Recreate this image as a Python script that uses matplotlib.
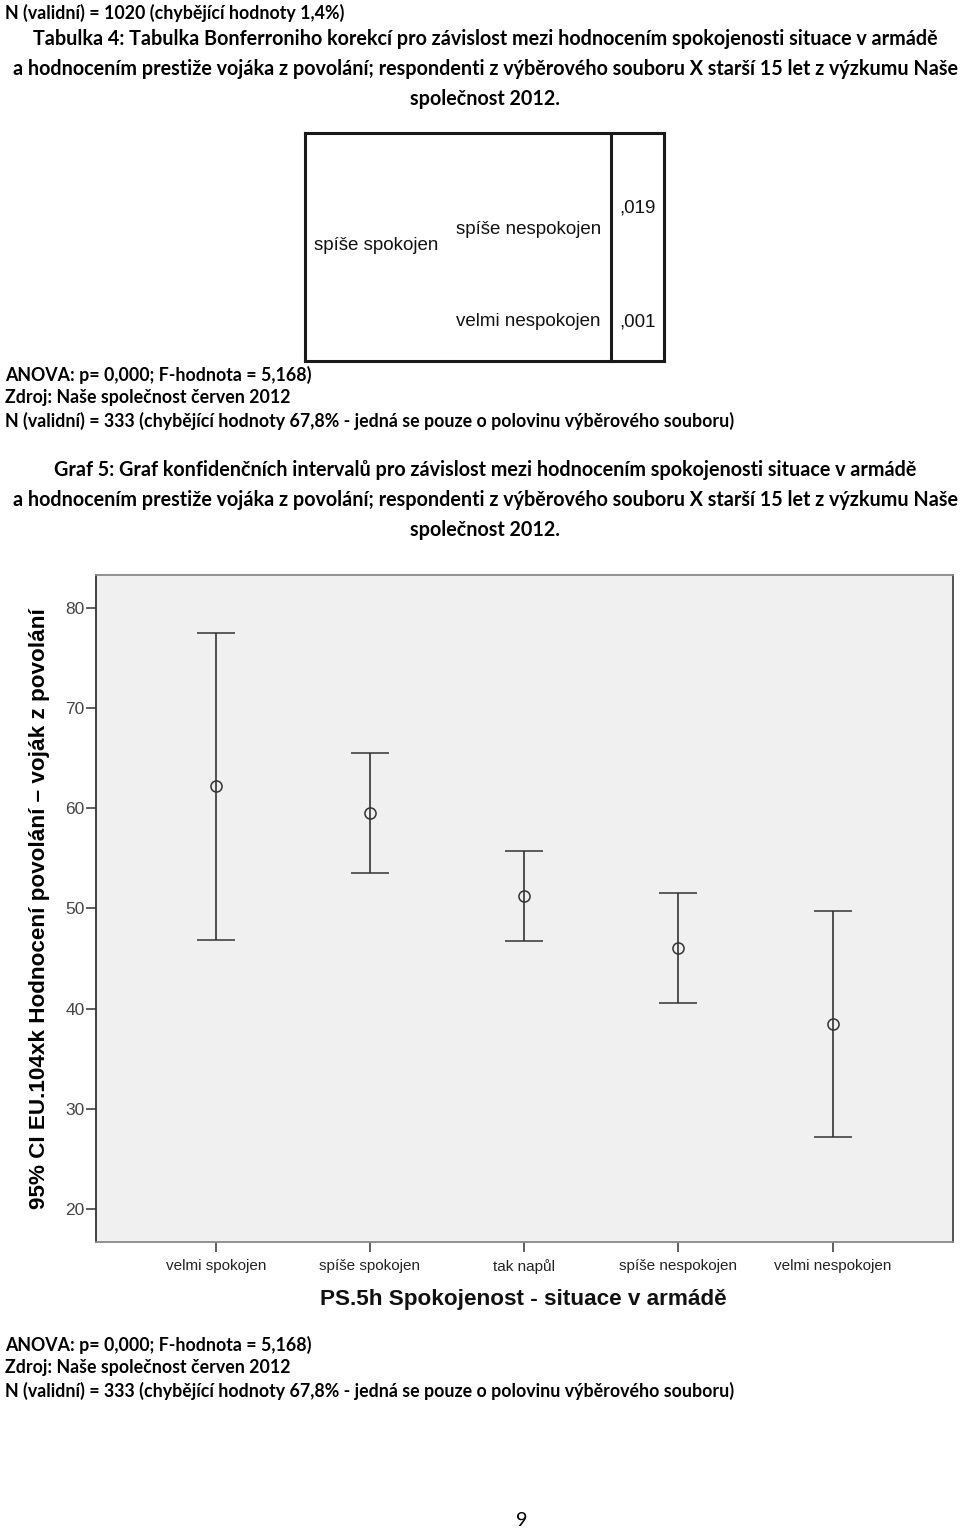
import matplotlib
matplotlib.use("Agg")
import matplotlib.pyplot as plt
from matplotlib.lines import Line2D

# ---------------- data ----------------
categories = ["velmi spokojen", "spíše spokojen", "tak napůl", "spíše nespokojen", "velmi nespokojen"]
means = [62.2, 59.5, 51.2, 46.0, 38.5]
ci_upper = [77.5, 65.5, 55.7, 51.5, 49.7]
ci_lower = [46.8, 53.5, 46.7, 40.6, 27.2]
y_ticks = [20, 30, 40, 50, 60, 70, 80]

table_rows = ["spíše nespokojen", "velmi nespokojen"]
table_vals = [",019", ",001"]
table_group = "spíše spokojen"

header_lines = [
    "Tabulka 4: Tabulka Bonferroniho korekcí pro závislost mezi hodnocením spokojenosti situace v armádě",
    "a hodnocením prestiže vojáka z povolání; respondenti z výběrového souboru X starší 15 let z výzkumu Naše",
    "společnost 2012.",
]
graph_lines = [
    "Graf 5: Graf konfidenčních intervalů pro závislost mezi hodnocením spokojenosti situace v armádě",
    "a hodnocením prestiže vojáka z povolání; respondenti z výběrového souboru X starší 15 let z výzkumu Naše",
    "společnost 2012.",
]
note_lines = [
    "ANOVA: p= 0,000; F-hodnota = 5,168)",
    "Zdroj: Naše společnost červen 2012",
    "N (validní) = 333 (chybějící hodnoty 67,8% - jedná se pouze o polovinu výběrového souboru)",
]
top_line = "N (validní) = 1020 (chybějící hodnoty 1,4%)"
ylabel = "95% CI EU.104xk Hodnocení povolání – voják z povolání"
xlabel = "PS.5h Spokojenost - situace v armádě"
page_no = "9"

# ---------------- figure ----------------
W, H = 960, 1532
fig = plt.figure(figsize=(W / 100, H / 100), dpi=100)
fig.patch.set_facecolor("white")

def fx(x):
    return x / W

def fy(y):
    return 1 - y / H

DOC_FONT = ["Lato", "DejaVu Sans"]
renderer = fig.canvas.get_renderer()

def fit_size(s, target):
    probe = fig.text(0, 0, s, fontsize=10, fontweight="bold", family=DOC_FONT)
    w = probe.get_window_extent(renderer).width
    probe.remove()
    return 10 * target / w

doc_fs = fit_size(note_lines[2], 726)
head_fs = fit_size(header_lines[1], 944)

def dtext(x, y, s, ha="left", weight="bold", fs=None):
    return fig.text(fx(x), fy(y), s, ha=ha, va="center", fontsize=fs or doc_fs,
                    fontweight=weight, family=DOC_FONT, color="black")

dtext(5, 13, top_line)
for i, s in enumerate(header_lines):
    dtext(485, 39 + 30 * i, s, ha="center", fs=head_fs)

# ---------------- table fragment ----------------
tcol = "#1a1a1a"
tlw = 2.2
segs = [
    ((305, 305), (133, 361)),
    ((305, 664), (133, 133)),
    ((664, 664), (133, 361)),
    ((611, 611), (133, 361)),
    ((305, 446), (361, 361)),
    ((449, 664), (361, 361)),
]
for xs, ys in segs:
    fig.add_artist(Line2D([fx(v) for v in xs], [fy(v) for v in ys], color=tcol, lw=tlw,
                          solid_capstyle="projecting"))

TFONT = ["Liberation Sans", "DejaVu Sans"]
tfs = 13.5
fig.text(fx(314), fy(246), table_group, ha="left", va="center", fontsize=tfs, family=TFONT, color="#111")
fig.text(fx(456), fy(230), table_rows[0], ha="left", va="center", fontsize=tfs, family=TFONT, color="#111")
fig.text(fx(456), fy(322), table_rows[1], ha="left", va="center", fontsize=tfs, family=TFONT, color="#111")
fig.text(fx(619), fy(208), table_vals[0], ha="left", va="center", fontsize=tfs, family=TFONT, color="#111")
fig.text(fx(619), fy(322), table_vals[1], ha="left", va="center", fontsize=tfs, family=TFONT, color="#111")

for i, s in enumerate(note_lines):
    dtext(5, 375 + 23 * i, s)

for i, s in enumerate(graph_lines):
    dtext(485, 470 + 30 * i, s, ha="center", fs=head_fs)

# ---------------- chart ----------------
ax_l, ax_t, ax_r, ax_b = 96, 574.7, 953, 1242
ax = fig.add_axes([fx(ax_l), fy(ax_b), fx(ax_r - ax_l), (ax_b - ax_t) / H])
ax.set_facecolor("#f0f0f0")

xpos = list(range(len(categories)))
yerr = [[m - lo for m, lo in zip(means, ci_lower)], [hi - m for m, hi in zip(means, ci_upper)]]
ax.errorbar(xpos, means, yerr=yerr, fmt="o", ms=8, mfc="none", mec="#333333", mew=1.1,
            ecolor="#333333", elinewidth=1.2, capsize=13.9, capthick=1.2, zorder=3)

ax.set_xlim(-0.776, 4.78)
ax.set_ylim(16.7, 83.3)
ax.set_xticks(xpos)
ax.set_xticklabels(categories, fontsize=11, family=TFONT, color="#222")
ax.set_yticks(y_ticks)
ax.set_yticklabels([str(v) for v in y_ticks], fontsize=12.5, family=TFONT, color="#444")
ax.tick_params(axis="both", direction="out", length=7.2, width=1.1, color="#333333")
ax.tick_params(axis="x", pad=5)
ax.tick_params(axis="y", pad=1)

for side, col, lw in [("left", "#333333", 1.3), ("right", "#444444", 1.3),
                      ("top", "#888888", 1.3), ("bottom", "#888888", 1.3)]:
    ax.spines[side].set_color(col)
    ax.spines[side].set_linewidth(lw)

fig.text(fx(40), fy(909), ylabel, rotation=90, ha="center", va="center", fontsize=16.2,
         fontweight="heavy", family=TFONT, color="#000")
fig.text(fx(523), fy(1300), xlabel, ha="center", va="center", fontsize=16.2,
         fontweight="bold", family=TFONT, color="#111")

for i, s in enumerate(note_lines):
    dtext(5, 1345 + 23 * i, s)

dtext(522, 1520, page_no, ha="center", weight="normal", fs=head_fs)

fig.savefig("out.png", dpi=100, facecolor="white")
